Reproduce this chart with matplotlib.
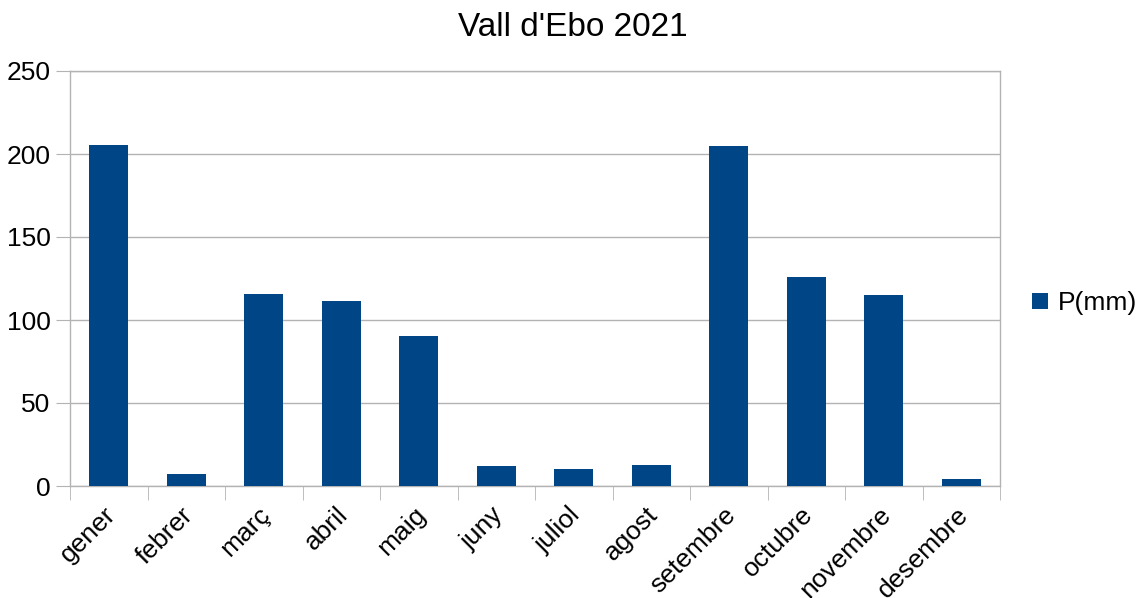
"""Monthly precipitation bar chart for Vall d'Ebo 2021."""

import matplotlib
matplotlib.use('Agg')  # Non-interactive backend
import matplotlib.pyplot as plt
import matplotlib.transforms as mtransforms
import numpy as np

months = ['gener', 'febrer', 'març', 'abril', 'maig', 'juny',
          'juliol', 'agost', 'setembre', 'octubre', 'novembre', 'desembre']
precip_mm = [205.2, 7.0, 115.5, 111.3, 90.2, 11.9,
             10.0, 12.5, 204.6, 125.7, 114.9, 4.0]
y_ticks = [0, 50, 100, 150, 200, 250]

plt.rcParams['font.family'] = ['Liberation Sans', 'DejaVu Sans']

BAR_COLOR = '#004586'
GRID_COLOR = '#b3b3b3'

fig = plt.figure(figsize=(11.37, 5.98), dpi=100)
ax = fig.add_axes([70 / 1137, 1 - 486 / 598, 930 / 1137, 415 / 598])

x = np.arange(len(months))
ax.bar(x, precip_mm, width=0.5, color=BAR_COLOR, label='P(mm)', zorder=3)

ax.set_xlim(-0.5, len(months) - 0.5)
ax.set_ylim(0, 250)
ax.set_yticks(y_ticks)
ax.tick_params(axis='y', labelsize=19, length=10, color=GRID_COLOR, pad=4)

# category labels at centres, tick marks at category boundaries
ax.set_xticks(x)
ax.set_xticklabels(months, rotation=45, ha='right', va='center',
                   rotation_mode='anchor', fontsize=19)
ax.tick_params(axis='x', which='major', length=0, pad=18)
shift = mtransforms.ScaledTranslation(3 / 100, 0, fig.dpi_scale_trans)
for lbl in ax.get_xticklabels():
    lbl.set_transform(lbl.get_transform() + shift)
ax.set_xticks(np.arange(-0.5, len(months)), minor=True)
ax.tick_params(axis='x', which='minor', length=10, color=GRID_COLOR)

ax.grid(True, axis='y', color=GRID_COLOR, linewidth=1, zorder=0)
for spine in ax.spines.values():
    spine.set_color(GRID_COLOR)
    spine.set_linewidth(1)

fig.suptitle("Vall d'Ebo 2021", fontsize=24, x=573 / 1137, y=1 - 12 / 598, va='top')

ax.legend(loc='center left', bbox_to_anchor=(1.023, 0.44), frameon=False,
          fontsize=19, handlelength=0.6, handleheight=0.6, handletextpad=0.4,
          borderaxespad=0)

plt.savefig('out.png', dpi=100)
plt.close()
